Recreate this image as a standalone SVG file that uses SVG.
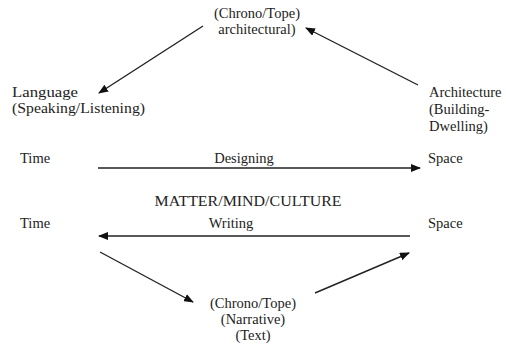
<svg xmlns="http://www.w3.org/2000/svg" width="506" height="344" viewBox="0 0 506 344">
<defs>
<marker id="ah" markerWidth="10" markerHeight="8" refX="9" refY="4" orient="auto" markerUnits="userSpaceOnUse">
<path d="M0,0 L10,4 L0,8 Z" fill="#111"/>
</marker>
<style>
text{font-family:"Liberation Serif","Times New Roman",serif;font-size:14.5px;fill:#222}
.c{text-anchor:middle}
.ln{stroke:#222;stroke-width:1.4;fill:none;marker-end:url(#ah)}
</style>
</defs>
<rect width="506" height="344" fill="#fff"/>
<g id="top"><text class="c" x="257" y="18">(Chrono/Tope)</text><text class="c" x="257" y="34">architectural)</text></g>
<g id="language"><text x="12" y="97" textLength="66" lengthAdjust="spacingAndGlyphs">Language</text><text x="12" y="113" textLength="133" lengthAdjust="spacingAndGlyphs">(Speaking/Listening)</text></g>
<g id="architecture"><text x="429" y="97">Architecture</text><text x="429" y="114">(Building-</text><text x="429" y="131">Dwelling)</text></g>
<g id="time1"><text x="20" y="163">Time</text></g>
<g id="designing"><text class="c" x="244" y="163">Designing</text></g>
<g id="space1"><text x="428" y="163">Space</text></g>
<g id="mmc"><text class="c" x="248" y="206" textLength="187" lengthAdjust="spacingAndGlyphs">MATTER/MIND/CULTURE</text></g>
<g id="time2"><text x="20" y="228">Time</text></g>
<g id="writing"><text class="c" x="231" y="228">Writing</text></g>
<g id="space2"><text x="428" y="228">Space</text></g>
<g id="bottom"><text class="c" x="253" y="308">(Chrono/Tope)</text><text class="c" x="253" y="324">(Narrative)</text><text class="c" x="253" y="340">(Text)</text></g>
<g id="connectors">
<line class="ln" x1="203" y1="26" x2="99" y2="93"/>
<line class="ln" x1="418" y1="85" x2="306" y2="28"/>
<line class="ln" x1="98" y1="168" x2="420" y2="168"/>
<line class="ln" x1="410" y1="236" x2="99" y2="236"/>
<line class="ln" x1="100" y1="252" x2="193" y2="302"/>
<line class="ln" x1="315" y1="293" x2="409" y2="253"/>
</g>
</svg>
